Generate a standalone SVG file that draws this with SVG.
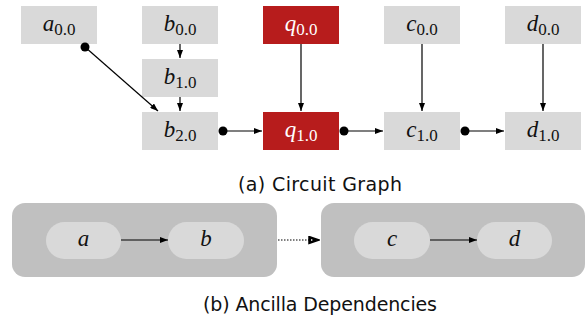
<svg xmlns="http://www.w3.org/2000/svg" width="587" height="322" viewBox="0 0 587 322">
<defs>
<style>
.box{fill:#D9D9D9}
.red{fill:#B71C1C}
.lbl{font-family:"Liberation Serif",serif;font-size:23px;text-anchor:middle;fill:#111}
.lbl .v{font-style:italic}
.lbl .s{font-size:17px}
.w{fill:#fff}
.edge{stroke:#000;stroke-width:1.2;fill:none}
.dot{fill:#000}
.cap{font-family:"DejaVu Sans",sans-serif;font-size:19px;text-anchor:middle;fill:#111}
.grp{fill:#C0C0C0}
.pill{fill:#D9D9D9}
</style>
<marker id="ah" markerWidth="8" markerHeight="6" refX="8" refY="3" orient="auto" markerUnits="userSpaceOnUse">
<path d="M0,0 L8,3 L0,6 z" fill="#000"/>
</marker>
<marker id="oh" markerWidth="12" markerHeight="9" refX="11" refY="4.5" orient="auto" markerUnits="userSpaceOnUse">
<path d="M1,1 L11,4.5 L1,8 z" fill="#000" stroke="#000" stroke-width="1.5" stroke-linejoin="miter"/>
<path d="M3,3.5 L5,4.5 L3,5.5 z" fill="#fff"/>
</marker>
</defs>
<g id="a00"><rect class="box" x="21" y="6" width="76" height="38"/><text class="lbl" x="59" y="31"><tspan class="v">a</tspan><tspan class="s" dy="4">0.0</tspan></text></g>
<g id="b00"><rect class="box" x="142" y="6" width="76" height="38"/><text class="lbl" x="180" y="31"><tspan class="v">b</tspan><tspan class="s" dy="4">0.0</tspan></text></g>
<g id="q00"><rect class="red" x="263" y="6" width="76" height="38"/><text class="lbl w" x="301" y="31"><tspan class="v">q</tspan><tspan class="s" dy="4">0.0</tspan></text></g>
<g id="c00"><rect class="box" x="384" y="6" width="76" height="38"/><text class="lbl" x="422" y="31"><tspan class="v">c</tspan><tspan class="s" dy="4">0.0</tspan></text></g>
<g id="d00"><rect class="box" x="505" y="6" width="76" height="38"/><text class="lbl" x="543" y="31"><tspan class="v">d</tspan><tspan class="s" dy="4">0.0</tspan></text></g>
<g id="b10"><rect class="box" x="142" y="59" width="76" height="38"/><text class="lbl" x="180" y="84"><tspan class="v">b</tspan><tspan class="s" dy="4">1.0</tspan></text></g>
<g id="b20"><rect class="box" x="142" y="112" width="76" height="38"/><text class="lbl" x="180" y="137"><tspan class="v">b</tspan><tspan class="s" dy="4">2.0</tspan></text></g>
<g id="q10"><rect class="red" x="263" y="112" width="76" height="38"/><text class="lbl w" x="301" y="137"><tspan class="v">q</tspan><tspan class="s" dy="4">1.0</tspan></text></g>
<g id="c10"><rect class="box" x="384" y="112" width="76" height="38"/><text class="lbl" x="422" y="137"><tspan class="v">c</tspan><tspan class="s" dy="4">1.0</tspan></text></g>
<g id="d10"><rect class="box" x="505" y="112" width="76" height="38"/><text class="lbl" x="543" y="137"><tspan class="v">d</tspan><tspan class="s" dy="4">1.0</tspan></text></g>
<g id="connectors">
<line class="edge" x1="85" y1="47" x2="158" y2="111" marker-end="url(#ah)"/>
<circle class="dot" cx="85" cy="47" r="4.5"/>
<line class="edge" x1="180" y1="44" x2="180" y2="58" marker-end="url(#ah)"/>
<line class="edge" x1="180" y1="97" x2="180" y2="111" marker-end="url(#ah)"/>
<line class="edge" x1="301" y1="44" x2="301" y2="111" marker-end="url(#ah)"/>
<line class="edge" x1="422" y1="44" x2="422" y2="111" marker-end="url(#ah)"/>
<line class="edge" x1="543" y1="44" x2="543" y2="111" marker-end="url(#ah)"/>
<line class="edge" x1="223" y1="131" x2="262" y2="131" marker-end="url(#ah)"/>
<circle class="dot" cx="223" cy="131" r="4.5"/>
<line class="edge" x1="344" y1="131" x2="383" y2="131" marker-end="url(#ah)"/>
<circle class="dot" cx="344" cy="131" r="4.5"/>
<line class="edge" x1="465" y1="131" x2="504" y2="131" marker-end="url(#ah)"/>
<circle class="dot" cx="465" cy="131" r="4.5"/>
</g>
<text class="cap" x="320" y="191" textLength="164" lengthAdjust="spacing">(a) Circuit Graph</text>
<g id="groupAB"><rect class="grp" x="12" y="203" width="265" height="74" rx="13"/></g>
<g id="groupCD"><rect class="grp" x="321" y="203" width="264" height="74" rx="13"/></g>
<g id="pa"><rect class="pill" x="46" y="222" width="75" height="37" rx="18.5"/><text class="lbl" x="83.5" y="246"><tspan class="v">a</tspan></text></g>
<g id="pb"><rect class="pill" x="168" y="222" width="76" height="37" rx="18.5"/><text class="lbl" x="206" y="246"><tspan class="v">b</tspan></text></g>
<g id="pc"><rect class="pill" x="354" y="222" width="76" height="37" rx="18.5"/><text class="lbl" x="392" y="246"><tspan class="v">c</tspan></text></g>
<g id="pd"><rect class="pill" x="477" y="222" width="75" height="37" rx="18.5"/><text class="lbl" x="514.5" y="246"><tspan class="v">d</tspan></text></g>
<g id="connectors2">
<line class="edge" x1="121" y1="240" x2="168" y2="240" marker-end="url(#ah)"/>
<line class="edge" x1="430" y1="240" x2="477" y2="240" marker-end="url(#ah)"/>
<line class="edge" x1="278" y1="240" x2="319" y2="240" stroke-dasharray="1.5 1.5" marker-end="url(#oh)"/>
</g>
<text class="cap" x="320" y="311" textLength="234" lengthAdjust="spacing">(b) Ancilla Dependencies</text>
</svg>
